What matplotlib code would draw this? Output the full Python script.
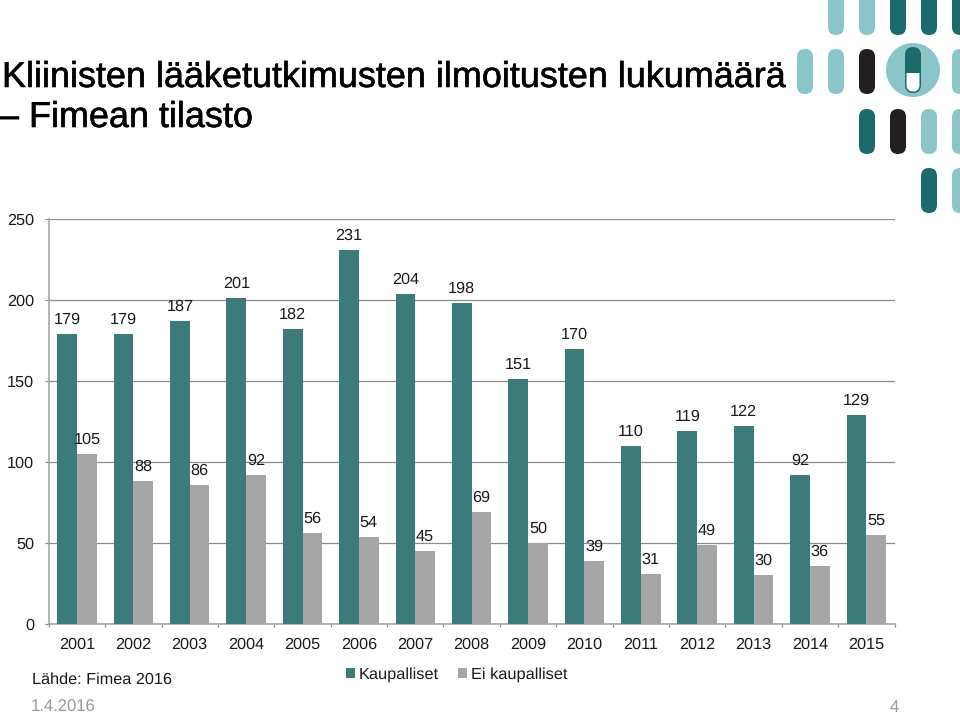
import matplotlib
matplotlib.use("Agg")
import matplotlib.pyplot as plt
import matplotlib.patheffects as pe
from matplotlib.patches import FancyBboxPatch, Rectangle, Circle

plt.rcParams['font.family'] = ['Liberation Sans', 'DejaVu Sans']
plt.rcParams['text.hinting'] = 'no_hinting'

years = ['2001', '2002', '2003', '2004', '2005', '2006', '2007', '2008',
         '2009', '2010', '2011', '2012', '2013', '2014', '2015']
kaupalliset = [179, 179, 187, 201, 182, 231, 204, 198, 151, 170, 110, 119, 122, 92, 129]
ei_kaupalliset = [105, 88, 86, 92, 56, 54, 45, 69, 50, 39, 31, 49, 30, 36, 55]
yticks = [0, 50, 100, 150, 200, 250]

LIGHT = '#8ac6c8'
DARK = '#1c6a6c'
BLACK = '#231f20'

# decoration pills in the top right corner: x centre, y top, y bottom, colour
pills = [
    (836, -10, 35, LIGHT), (867, -10, 35, LIGHT), (898, -10, 35, DARK),
    (929, -10, 35, DARK), (960, -10, 35, DARK),
    (805, 49, 94, LIGHT), (836, 49, 94, LIGHT), (867, 49, 94, BLACK), (960, 49, 94, LIGHT),
    (867, 109, 154, DARK), (898, 109, 154, BLACK), (929, 109, 154, LIGHT), (960, 109, 154, LIGHT),
    (929, 168, 213, DARK), (960, 168, 213, LIGHT),
]

W, H = 960, 715
fig = plt.figure(figsize=(W / 100, H / 100), dpi=100)

# axes box in pixels
left, right, top, bottom = 48.8, 894.5, 219, 624
ax = fig.add_axes([left / W, 1 - bottom / H, (right - left) / W, (bottom - top) / H])

bar_w = 0.35
x = list(range(len(years)))
ax.bar([i - bar_w / 2 for i in x], kaupalliset, bar_w, color='#3d7a7a', label='Kaupalliset', zorder=3)
ax.bar([i + bar_w / 2 for i in x], ei_kaupalliset, bar_w, color='#a6a6a6', label='Ei kaupalliset', zorder=3)

# value labels sit about 15 px above the bars
for i, v in enumerate(kaupalliset):
    ax.annotate(str(v), (i - bar_w / 2, v), xytext=(0, 10.3), textcoords='offset points',
                ha='center', va='center', fontsize=11.7, color='#1a1a1a', zorder=4)
for i, v in enumerate(ei_kaupalliset):
    ax.annotate(str(v), (i + bar_w / 2, v), xytext=(0, 10.3), textcoords='offset points',
                ha='center', va='center', fontsize=11.7, color='#1a1a1a', zorder=4)

ax.set_xlim(-0.5, len(years) - 0.5)
ax.set_ylim(0, 250)
ax.set_yticks(yticks)
ax.set_xticks(x)
ax.set_xticklabels(years)
ax.set_xticks([i - 0.5 for i in range(len(years) + 1)], minor=True)
ax.tick_params(axis='x', which='major', length=0, pad=9.5, labelsize=11.7, labelcolor='#1a1a1a')
ax.tick_params(axis='x', which='minor', length=2.5, width=0.9, color='#8c8c8c')
ax.tick_params(axis='y', length=3.2, width=0.9, color='#8c8c8c', pad=7.5, labelsize=11.7, labelcolor='#1a1a1a')
ax.grid(axis='y', color='#8c8c8c', linewidth=0.9, zorder=0)
for side in ['top', 'right']:
    ax.spines[side].set_visible(False)
for side in ['left', 'bottom']:
    ax.spines[side].set_color('#a0a0a0')
    ax.spines[side].set_linewidth(1.1)

fig.legend(loc='center left', bbox_to_anchor=(346 / W, 1 - 675 / H), ncol=2, frameon=False,
           fontsize=11.75, handlelength=0.58, handleheight=0.58, handletextpad=0.2,
           columnspacing=1.17, borderpad=0, borderaxespad=0, labelcolor='#1a1a1a')

# overlay in pixel coordinates for the slide furniture
ov = fig.add_axes([0, 0, 1, 1], zorder=-1)
ov.set_xlim(0, W)
ov.set_ylim(H, 0)
ov.axis('off')


def pill(xc, y0, y1, w, col):
    ov.add_patch(FancyBboxPatch((xc - w / 2, y0), w, y1 - y0,
                                boxstyle=f'round,pad=0,rounding_size={w / 2}',
                                linewidth=0, facecolor=col))


for px, y0, y1, col in pills:
    pill(px, y0, y1, 16, col)

# capsule in the circle
ov.add_patch(Circle((913, 70), 27, color=LIGHT, linewidth=0))
pill(913, 47, 93, 16, DARK)
pill(913, 60, 91.5, 13, 'white')
ov.add_patch(Rectangle((905, 55), 16, 18, color=DARK, linewidth=0))

title_fx = [pe.withStroke(linewidth=0.4, foreground='#000000')]
fig.text(2 / W, 1 - 87 / H, 'Kliinisten lääketutkimusten ilmoitusten lukumäärä',
         fontsize=25.9, va='baseline', color='#000000', path_effects=title_fx)
fig.text(-1 / W, 1 - 127 / H, '\u2013 Fimean tilasto', fontsize=25.9, va='baseline',
         color='#000000', path_effects=title_fx)
fig.text(32 / W, 1 - 684 / H, 'Lähde: Fimea 2016', fontsize=11.7, va='baseline', color='#1a1a1a')
fig.text(31 / W, 1 - 711.5 / H, '1.4.2016', fontsize=12, va='baseline', color='#999999')
fig.text(899 / W, 1 - 711.5 / H, '4', fontsize=12, va='baseline', ha='right', color='#999999')

fig.savefig('out.png', dpi=100)
